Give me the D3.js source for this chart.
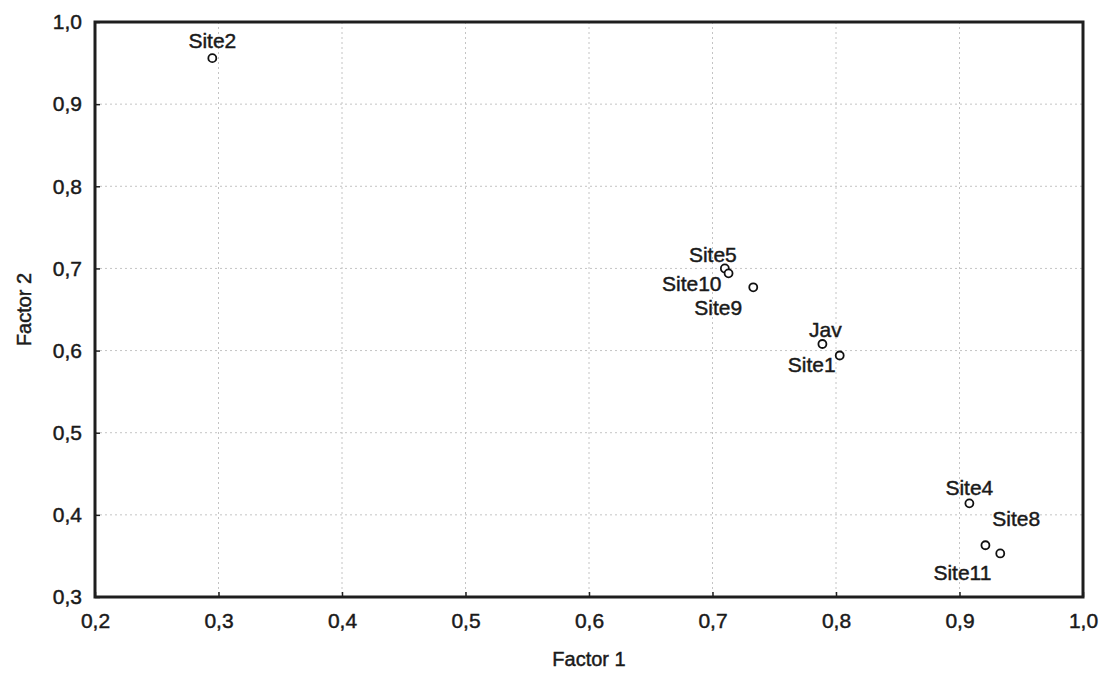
<!DOCTYPE html>
<html>
<head>
<meta charset="utf-8">
<script src="https://cdn.jsdelivr.net/npm/d3@7"></script>
<style>
  body { margin: 0; background: #fff; }
  text { font-family: "Liberation Sans", Arial, sans-serif; fill: #1a1a1a; stroke: #1a1a1a; stroke-width: 0.45px; }
</style>
</head>
<body>
<svg></svg>
<script>
const names = ["Site2", "Site5", "Site10", "Site9", "Jav", "Site1", "Site4", "Site11", "Site8"];
const factor1 = [0.295, 0.710, 0.713, 0.733, 0.789, 0.803, 0.908, 0.921, 0.933];
const factor2 = [0.956, 0.700, 0.694, 0.677, 0.608, 0.594, 0.414, 0.363, 0.353];
const xTicks = [0.2, 0.3, 0.4, 0.5, 0.6, 0.7, 0.8, 0.9, 1.0];
const yTicks = [0.3, 0.4, 0.5, 0.6, 0.7, 0.8, 0.9, 1.0];

// where each label sits next to its marker
const labelPlace = {
  Site2:  { dx: 0,   dy: -10, anchor: "middle" },
  Site5:  { dx: -12, dy: -6,  anchor: "middle" },
  Site10: { dx: -7,  dy: 18,  anchor: "end" },
  Site9:  { dx: -35, dy: 28,  anchor: "middle" },
  Jav:    { dx: 3,   dy: -7,  anchor: "middle" },
  Site1:  { dx: -4,  dy: 16,  anchor: "end" },
  Site4:  { dx: 0,   dy: -8,  anchor: "middle" },
  Site11: { dx: -23, dy: 35,  anchor: "middle" },
  Site8:  { dx: -8,  dy: -27, anchor: "start" }
};

const width = 1101, height = 673;
const margin = { left: 95, right: 18, top: 22, bottom: 76 };

const svg = d3.select("svg").attr("width", width).attr("height", height);

const x = d3.scaleLinear().domain([0.2, 1.0]).range([margin.left, width - margin.right]);
const y = d3.scaleLinear().domain([0.3, 1.0]).range([height - margin.bottom, margin.top]);

const fmt = d => d3.format(".1f")(d).replace(".", ",");

// grid
svg.append("g")
  .selectAll("line")
  .data(xTicks.slice(1, -1))
  .join("line")
  .attr("x1", d => x(d)).attr("x2", d => x(d))
  .attr("y1", y(1.0)).attr("y2", y(0.3))
  .attr("stroke", "#c4c4c4")
  .attr("stroke-dasharray", "2,3");
svg.append("g")
  .selectAll("line")
  .data(yTicks.slice(1, -1))
  .join("line")
  .attr("x1", x(0.2)).attr("x2", x(1.0))
  .attr("y1", d => y(d)).attr("y2", d => y(d))
  .attr("stroke", "#c4c4c4")
  .attr("stroke-dasharray", "2,3");

// axes
const xAxis = d3.axisBottom(x).tickValues(xTicks).tickFormat(fmt).tickSizeInner(-5).tickSizeOuter(0).tickPadding(16);
const yAxis = d3.axisLeft(y).tickValues(yTicks).tickFormat(fmt).tickSizeInner(-5).tickSizeOuter(0).tickPadding(13);

const gx = svg.append("g")
  .attr("transform", `translate(0,${y(0.3)})`)
  .call(xAxis);
const gy = svg.append("g")
  .attr("transform", `translate(${x(0.2)},0)`)
  .call(yAxis);

[gx, gy].forEach(g => {
  g.select(".domain").remove();
  g.selectAll(".tick line").attr("stroke", "#222").attr("stroke-width", 1.5);
  g.selectAll(".tick text").style("font-size", "21px").style("font-family", "Liberation Sans, Arial, sans-serif").attr("fill", "#1a1a1a");
});

// frame
svg.append("rect")
  .attr("x", x(0.2)).attr("y", y(1.0))
  .attr("width", x(1.0) - x(0.2)).attr("height", y(0.3) - y(1.0))
  .attr("fill", "none")
  .attr("stroke", "#1e1e1e")
  .attr("stroke-width", 3);

// axis titles
svg.append("text")
  .attr("x", (x(0.2) + x(1.0)) / 2)
  .attr("y", 666)
  .attr("text-anchor", "middle")
  .style("font-size", "20px")
  .text("Factor 1");
svg.append("text")
  .attr("transform", `translate(31,${(y(0.3) + y(1.0)) / 2}) rotate(-90)`)
  .attr("text-anchor", "middle")
  .style("font-size", "20px")
  .text("Factor 2");

// points
const pts = names.map((n, i) => ({ name: n, f1: factor1[i], f2: factor2[i] }));

svg.append("g")
  .selectAll("circle")
  .data(pts)
  .join("circle")
  .attr("cx", d => x(d.f1))
  .attr("cy", d => y(d.f2))
  .attr("r", 4)
  .attr("fill", "#fff")
  .attr("stroke", "#111")
  .attr("stroke-width", 1.8);

svg.append("g")
  .selectAll("text")
  .data(pts)
  .join("text")
  .attr("x", d => x(d.f1) + labelPlace[d.name].dx)
  .attr("y", d => y(d.f2) + labelPlace[d.name].dy)
  .attr("text-anchor", d => labelPlace[d.name].anchor)
  .style("font-size", "21px")
  .text(d => d.name);
</script>
</body>
</html>
